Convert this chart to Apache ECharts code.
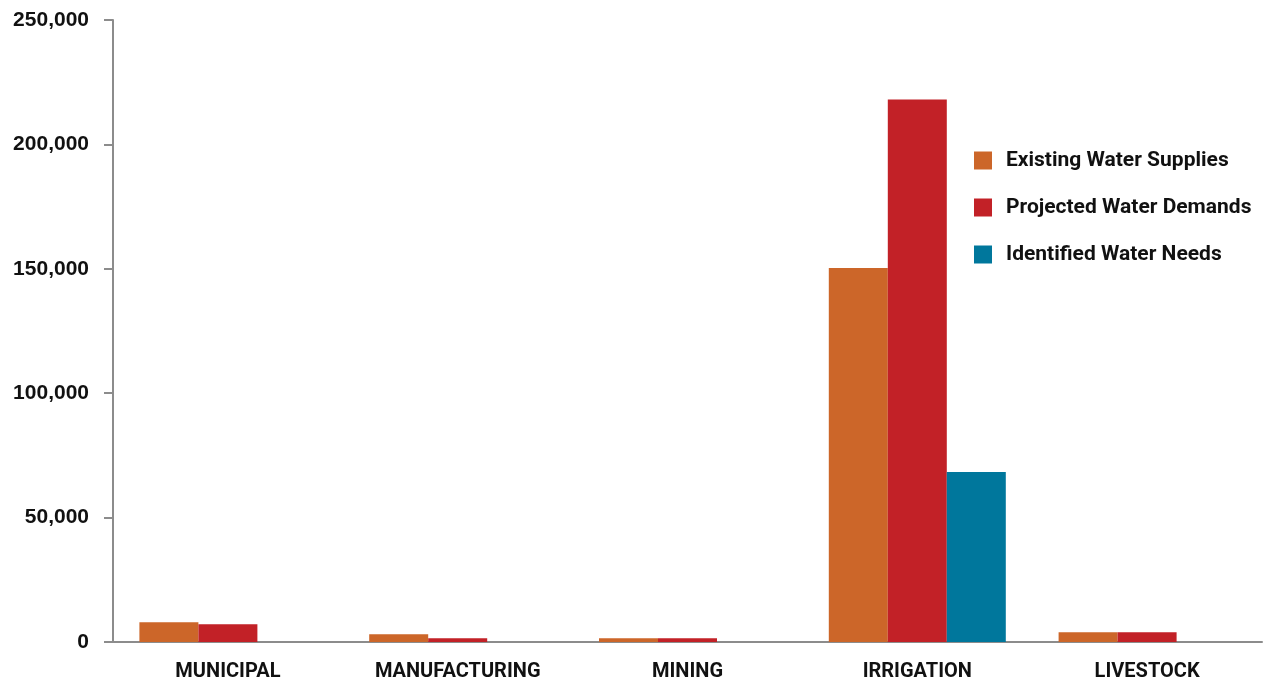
<!DOCTYPE html>
<html>
<head>
<meta charset="utf-8">
<script src="https://cdn.jsdelivr.net/npm/echarts@6/dist/echarts.min.js"></script>
<style>
html,body{margin:0;padding:0;background:#fff;}
#chart{width:1268px;height:683px;}
</style>
</head>
<body>
<div id="chart"></div>
<script>
const categories = ['MUNICIPAL', 'MANUFACTURING', 'MINING', 'IRRIGATION', 'LIVESTOCK'];
const seriesNames = ['Existing Water Supplies', 'Projected Water Demands', 'Identified Water Needs'];
const existingSupplies = [7900, 3100, 1500, 150300, 3900];
const projectedDemands = [7100, 1500, 1500, 218000, 3900];
const identifiedNeeds = [0, 0, 0, 68300, 0];
const yTicks = [0, 50000, 100000, 150000, 200000, 250000];

const colors = ['#CC6629', '#C22127', '#00779C'];
const narrow = "Roboto, 'Liberation Sans', sans-serif";

const chart = echarts.init(document.getElementById('chart'), null, {renderer: 'canvas'});
const dataSets = [existingSupplies, projectedDemands, identifiedNeeds];

chart.setOption({
  animation: false,
  color: colors,
  grid: {left: 113, right: 6, top: 20, bottom: 41, containLabel: false},
  legend: {
    orient: 'vertical',
    left: 969,
    top: 145,
    itemWidth: 18,
    itemHeight: 18,
    itemGap: 26,
    icon: 'rect',
    data: seriesNames,
    textStyle: {
      fontFamily: narrow,
      fontWeight: 'bold',
      fontSize: 21,
      color: '#111',
      padding: [0, 0, 0, 9]
    }
  },
  xAxis: {
    type: 'category',
    data: categories,
    axisLine: {lineStyle: {color: '#8c8c8c', width: 2}},
    axisTick: {show: false},
    axisLabel: {
      interval: 0,
      margin: 20,
      fontFamily: narrow,
      fontWeight: 'bold',
      fontSize: 20,
      color: '#111'
    }
  },
  yAxis: {
    type: 'value',
    min: yTicks[0],
    max: yTicks[yTicks.length - 1],
    interval: yTicks[1] - yTicks[0],
    splitLine: {show: false},
    axisLine: {show: true, lineStyle: {color: '#8c8c8c', width: 2}},
    axisTick: {show: true, length: 9, lineStyle: {color: '#8c8c8c', width: 2}},
    axisLabel: {
      margin: 24,
      fontFamily: "'Liberation Sans', Arial, sans-serif",
      fontWeight: 'bold',
      fontSize: 21,
      color: '#111',
      formatter: v => v.toLocaleString('en-US')
    }
  },
  series: seriesNames.map((name, i) => ({
    name: name,
    type: 'bar',
    data: dataSets[i],
    barWidth: 59,
    barGap: '0%',
    itemStyle: {color: colors[i]}
  }))
});
</script>
</body>
</html>
